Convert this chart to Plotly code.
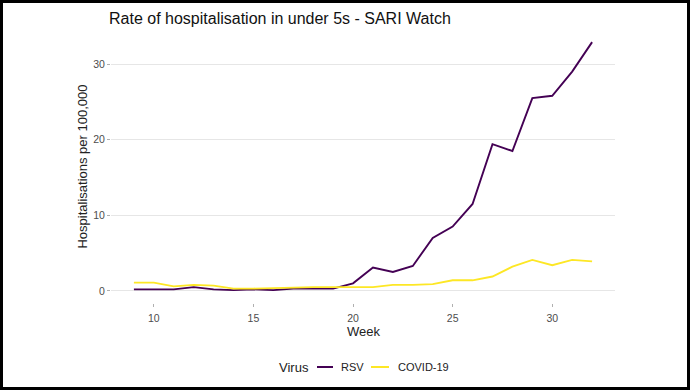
import plotly.graph_objects as go

weeks = list(range(9, 33))
rsv = [0.2, 0.2, 0.2, 0.5, 0.2, 0.1, 0.2, 0.1, 0.3, 0.3, 0.3, 1.0,
       3.1, 2.5, 3.3, 7.0, 8.5, 11.5, 19.4, 18.5, 25.5, 25.8, 29.0, 32.9]
covid = [1.1, 1.1, 0.6, 0.8, 0.7, 0.3, 0.3, 0.4, 0.5, 0.5, 0.5, 0.5,
         0.5, 0.8, 0.8, 0.9, 1.4, 1.4, 1.9, 3.2, 4.1, 3.4, 4.1, 3.9]
series_names = ["RSV", "COVID-19"]
series_colors = ["#440154", "#FDE725"]
x_ticks = [10, 15, 20, 25, 30]
y_ticks = [0, 10, 20, 30]

W, H = 690, 390
L, R, T, B = 111, 75, 30, 87
PW, PH = W - L - R, H - T - B


def px_x(p):
    return (p - L) / PW


def px_y(p):
    return (H - B - p) / PH


FONT = "Liberation Sans, Arial, sans-serif"

fig = go.Figure()
for name, vals, col in zip(series_names, [rsv, covid], series_colors):
    fig.add_trace(go.Scatter(x=weeks, y=vals, mode="lines", name=name,
                             showlegend=False,
                             line=dict(color=col, width=1.9)))

# manual legend (short key lines like the original)
leg_y = px_y(367)
annotations = [
    dict(text="Virus", x=px_x(277), y=leg_y, xref="paper", yref="paper",
         xanchor="left", yanchor="middle", showarrow=False,
         font=dict(size=13, color="#222222", family=FONT)),
    dict(text="RSV", x=px_x(339), y=leg_y, xref="paper", yref="paper",
         xanchor="left", yanchor="middle", showarrow=False,
         font=dict(size=11, color="#222222", family=FONT)),
    dict(text="COVID-19", x=px_x(396), y=leg_y, xref="paper", yref="paper",
         xanchor="left", yanchor="middle", showarrow=False,
         font=dict(size=11, color="#222222", family=FONT)),
    dict(text="Week", x=0.5, y=px_y(331), xref="paper", yref="paper",
         xanchor="center", yanchor="middle", showarrow=False,
         font=dict(size=13, color="#222222", family=FONT)),
]
shapes = [
    dict(type="line", xref="paper", yref="paper",
         x0=px_x(317), x1=px_x(333), y0=leg_y, y1=leg_y,
         line=dict(color=series_colors[0], width=2)),
    dict(type="line", xref="paper", yref="paper",
         x0=px_x(371), x1=px_x(389), y0=leg_y, y1=leg_y,
         line=dict(color=series_colors[1], width=2)),
    dict(type="rect", xref="paper", yref="paper",
         x0=px_x(1.5), x1=px_x(688.5), y0=px_y(388.5), y1=px_y(1.5),
         line=dict(color="black", width=3), layer="above"),
]

fig.update_layout(
    width=W, height=H,
    margin=dict(l=L, r=R, t=T, b=B),
    paper_bgcolor="white", plot_bgcolor="white",
    font=dict(family=FONT, color="#222222"),
    showlegend=False,
    title=dict(text="Rate of hospitalisation in under 5s - SARI Watch",
               x=109 / W, xanchor="left", xref="container",
               y=1 - 18 / H, yanchor="middle", yref="container",
               font=dict(size=16, color="#111111")),
    xaxis=dict(range=[7.85, 33.15], tickvals=x_ticks, showgrid=False,
               zeroline=False, showline=False,
               ticks="outside", ticklen=3, tickcolor="#b0b0b0", tickwidth=1,
               ticklabelstandoff=2,
               tickfont=dict(size=10.5, color="#4d4d4d")),
    yaxis=dict(range=[-1.6, 34.5], tickvals=y_ticks, showgrid=True,
               gridcolor="#e6e6e6", gridwidth=1, zeroline=False, showline=False,
               ticks="outside", ticklen=3, tickcolor="#b0b0b0", tickwidth=1,
               tickfont=dict(size=10.5, color="#4d4d4d"),
               title=dict(text="Hospitalisations per 100,000",
                          font=dict(size=13, color="#222222"), standoff=2)),
    annotations=annotations,
    shapes=shapes,
)

fig.write_html("out.html",
               config={"displayModeBar": False},
               post_script="document.body.style.margin='0';"
                           "document.body.style.overflow='hidden';")
